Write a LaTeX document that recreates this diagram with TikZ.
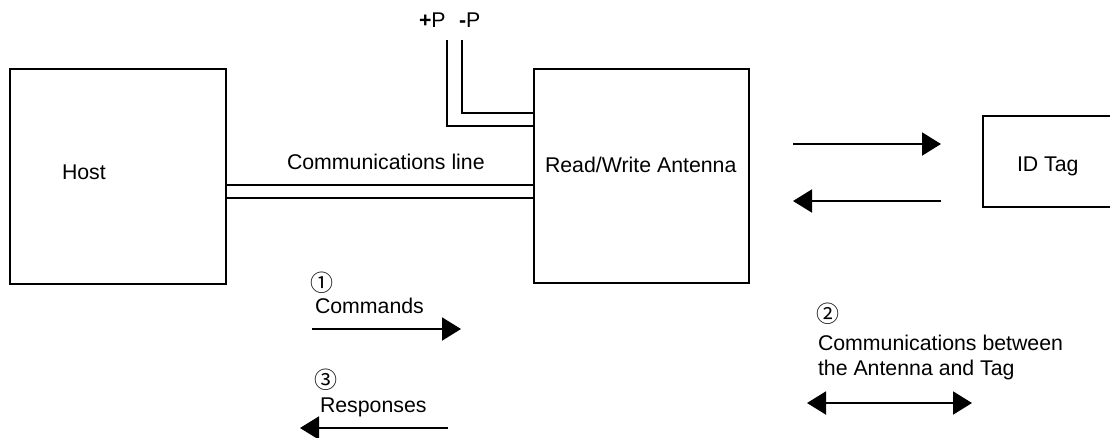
\documentclass[tikz,border=0pt]{standalone}
\usepackage{fontspec}
\setmainfont{Liberation Sans}
\newfontfamily\dv{Noto Sans CJK JP}
\usetikzlibrary{arrows.meta}
\begin{document}
\begin{tikzpicture}[x=1pt,y=-1pt,
  every node/.style={inner sep=0pt,outer sep=0pt,font=\fontsize{21.3}{25}\selectfont},
  box/.style={draw,line width=2pt,rectangle},
  txt/.style={anchor=base west},
  num/.style={font=\dv\fontsize{23}{23}\selectfont},
  wire/.style={line width=2pt},
  arr/.style={line width=2pt,-{Triangle[length=19pt,width=23pt]}},
  darr/.style={line width=2pt,{Triangle[length=19pt,width=23pt]}-{Triangle[length=19pt,width=23pt]}}]
\useasboundingbox (0,0) rectangle (1110,437);
\clip (0,0) rectangle (1110,437);
% boxes
\node[box,minimum width=216pt,minimum height=215pt] (host) at (118,176.5) {};
\node[box,minimum width=215pt,minimum height=214pt] (ant) at (641.5,176) {};
\node[box,minimum width=150pt,minimum height=91pt] (tag) at (1058,161.5) {};
% box texts
\node[txt] (hostt) at (62,179) {Host};
\node[txt] (antt) at (545,172) {Read/Write Antenna};
\node[txt] (tagt) at (1017,171) {ID Tag};
\node[txt] (commt) at (287,169) {Communications line};
% communications line
\draw[wire] (host.east |- {(0,185)}) -- (ant.west |- {(0,185)});
\draw[wire] (host.east |- {(0,198)}) -- (ant.west |- {(0,198)});
% power
\node[txt] (pp) at (419,27) {\textbf{+}P};
\node[txt] (pm) at (459,27) {\textbf{-}P};
\coordinate (ppw) at (447,40);
\coordinate (pmw) at (462,40);
\draw[wire] (ppw) |- (ant.west |- {(0,126)});
\draw[wire] (pmw) |- (ant.west |- {(0,113)});
% antenna-tag arrows
\coordinate (a1) at (793,144);
\coordinate (t1) at (941,144);
\coordinate (t2) at (941,201);
\coordinate (a2) at (793,201);
\draw[arr] (a1) -- (t1);
\draw[arr] (t2) -- (a2);
% commands
\node[num] (n1) at (322,283) {①};
\node[txt] (cmd) at (315,313) {Commands};
\coordinate (c1) at (312,329);
\coordinate (c2) at (461,329);
\draw[arr] (c1) -- (c2);
% responses
\node[num] (n3) at (326,380) {③};
\node[txt] (resp) at (320,412) {Responses};
\coordinate (r1) at (448,428);
\coordinate (r2) at (300,428);
\draw[arr] (r1) -- (r2);
% antenna-tag communications
\node[num] (n2) at (828,314) {②};
\node[txt] (cab) at (818,350) {Communications between};
\node[txt] (cab2) at (818,375) {the Antenna and Tag};
\coordinate (b1) at (807,403);
\coordinate (b2) at (972,403);
\draw[darr] (b1) -- (b2);
\end{tikzpicture}
\end{document}
